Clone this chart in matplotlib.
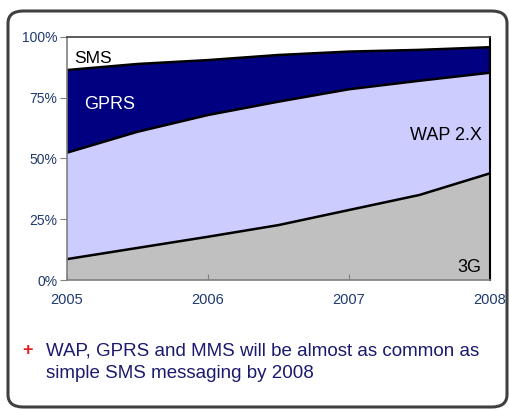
import matplotlib
matplotlib.use("Agg")
import matplotlib.pyplot as plt
from matplotlib.patches import FancyBboxPatch
import numpy as np

plt.rcParams['font.family'] = ['Liberation Sans', 'DejaVu Sans']

years = [2005, 2005.5, 2006, 2006.5, 2007, 2007.5, 2008]
g3 = [8.6, 13.2, 17.8, 22.6, 28.8, 35.0, 43.9]
wap = [43.8, 47.8, 50.1, 50.8, 49.7, 47.0, 41.4]
gprs = [34.0, 27.9, 22.6, 19.2, 15.5, 12.7, 10.5]
sms = [13.6, 11.1, 9.5, 7.4, 6.0, 5.3, 4.2]
series_names = ["3G", "WAP 2.X", "GPRS", "SMS"]
colors = ["#C0C0C0", "#CCCCFF", "#000080", "#FFFFFF"]
xticks = [2005, 2006, 2007, 2008]
yticks = [0, 25, 50, 75, 100]
ytick_labels = ["0%", "25%", "50%", "75%", "100%"]
note = "WAP, GPRS and MMS will be almost as common as\nsimple SMS messaging by 2008"

W, H = 510, 411
fig = plt.figure(figsize=(W / 100, H / 100), dpi=100)
ax = fig.add_axes([67 / W, 1 - 280 / H, (490 - 67) / W, (280 - 37) / H])

ax.stackplot(years, g3, wap, gprs, sms, colors=colors, linewidth=0)
cum = np.cumsum([g3, wap, gprs], axis=0)
for row in cum:
    ax.plot(years, row, color="black", lw=1.8)

ax.set_xlim(2005, 2008)
ax.set_ylim(0, 100)
ax.set_xticks(xticks)
ax.set_xticklabels([str(x) for x in xticks])
ax.set_yticks(yticks)
ax.set_yticklabels(ytick_labels)
tick_color = "#1F3A6E"
ax.tick_params(axis="y", direction="out", length=5, color="#808080",
               labelsize=10, labelcolor=tick_color, pad=2)
ax.tick_params(axis="x", direction="in", length=4, color="#808080",
               labelsize=10.5, labelcolor=tick_color, pad=9)
for s in ["left", "bottom"]:
    ax.spines[s].set_color("#808080")
    ax.spines[s].set_linewidth(1.2)
ax.spines["top"].set_color("#404040")
ax.spines["top"].set_linewidth(1.2)
ax.spines["right"].set_color("black")
ax.spines["right"].set_linewidth(1.5)

ax.text(2005.05, 91.2, "SMS", fontsize=12.5, color="black", va="center", ha="left")
ax.text(2005.12, 72.2, "GPRS", fontsize=13, color="white", va="center", ha="left")
ax.text(2007.94, 59.3, "WAP 2.X", fontsize=13, color="black", va="center", ha="right")
ax.text(2007.94, 5.3, "3G", fontsize=13, color="black", va="center", ha="right")

fig.text(46 / W, 1 - 362 / H, note, fontsize=13.5, color="#1A1A6E",
         va="center", ha="left", linespacing=1.45)
fig.text(28 / W, 1 - 350 / H, "+", fontsize=13, color="#E02020",
         fontweight="bold", va="center", ha="center")

box = FancyBboxPatch((8 / W, 4 / H), (507 - 8) / W, (400 - 4) / H,
                     boxstyle="round,pad=0,rounding_size=0.03",
                     transform=fig.transFigure, facecolor="none",
                     edgecolor="#404040", linewidth=2.2)
fig.patches.append(box)

fig.savefig("out.png", dpi=100)
